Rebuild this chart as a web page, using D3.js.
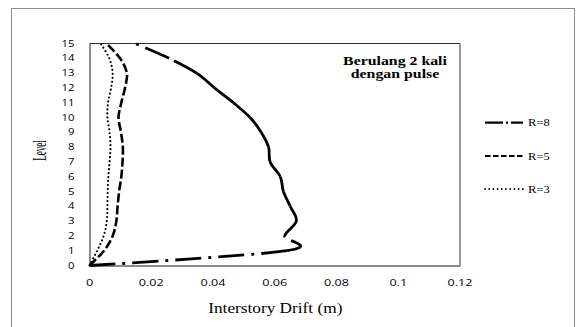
<!DOCTYPE html>
<html>
<head>
<meta charset="utf-8">
<script src="https://cdn.jsdelivr.net/npm/d3@7"></script>
<style>
body{margin:0;background:#fff;}
svg{display:block;}
</style>
</head>
<body>
<div id="chart"></div>
<script>
//=====================data=========================
const levels = [0,1,2,3,4,5,6,7,8,9,10,11,12,13,14,15];
const driftR8 = [0, 0.064, 0.0632, 0.067, 0.065, 0.0628, 0.0618, 0.0585, 0.058, 0.0556, 0.052, 0.0466, 0.0405, 0.0347, 0.0258, 0.0148];
const driftR5 = [0, 0.0047, 0.0075, 0.0087, 0.0091, 0.0096, 0.0103, 0.0107, 0.0108, 0.0102, 0.0094, 0.0103, 0.0115, 0.0121, 0.0099, 0.0055];
const driftR3 = [0, 0.0025, 0.0046, 0.0056, 0.0058, 0.0059, 0.0061, 0.0065, 0.0068, 0.0065, 0.0058, 0.006, 0.007, 0.0075, 0.0064, 0.0036];
const seriesName = ['R=8','R=5','R=3'];
const xTicks = [0, 0.02, 0.04, 0.06, 0.08, 0.1, 0.12];
const yTicks = [0,1,2,3,4,5,6,7,8,9,10,11,12,13,14,15];
const titleLines = ['Berulang 2 kali','dengan pulse'];

//=====================plot size=========================
var W = 576, H = 327;
var plot = {left:89.5, right:460, top:43.5, bottom:265.5};

var svg = d3.select('#chart')
.append('svg')
.attr('width', W)
.attr('height', H);

svg.append('rect').attr('width',W).attr('height',H).attr('fill','#fff');
// outer frame
svg.append('rect')
.attr('x',11.5).attr('y',8.5)
.attr('width',563).attr('height',340)
.attr('fill','none').attr('stroke','#8a8a8a').attr('stroke-width',1);

var x = d3.scaleLinear().domain([0,0.12]).range([plot.left, plot.right]);
var y = d3.scaleLinear().domain([0,15]).range([plot.bottom, plot.top]);

// plot border (top/right dark, axes grey)
svg.append('line').attr('x1',x(0)).attr('x2',x(0.12)).attr('y1',y(15)).attr('y2',y(15))
.attr('stroke','#333').attr('stroke-width',1);
svg.append('line').attr('x1',x(0.12)).attr('x2',x(0.12)).attr('y1',y(15)).attr('y2',y(0))
.attr('stroke','#333').attr('stroke-width',1);

var xAxis = svg.append('g')
.attr('transform','translate(0,'+y(0)+')')
.call(d3.axisBottom(x).tickValues(xTicks).tickSize(0).tickFormat(''));
var yAxis = svg.append('g')
.attr('transform','translate('+x(0)+',0)')
.call(d3.axisLeft(y).tickValues(yTicks).tickSize(0).tickFormat(''));
svg.selectAll('.domain').attr('stroke','#8c8c8c').attr('stroke-width',2);

//=====================tick labels (stretched like the picture)=========
svg.selectAll('xlab')
.data(xTicks)
.enter()
.append('text')
.attr('transform', function(d){ return 'translate('+x(d)+',286) scale(1.5,1)'; })
.attr('text-anchor','middle')
.style('font-family','Open Sans, sans-serif')
.style('font-size','8.4px')
.style('fill','#000')
.text(function(d){ return d; });

svg.selectAll('ylab')
.data(yTicks)
.enter()
.append('text')
.attr('transform', function(d){ return 'translate(74.5,'+(y(d)+3)+') scale(1.35,1)'; })
.attr('text-anchor','end')
.style('font-family','Open Sans, sans-serif')
.style('font-size','8.4px')
.style('fill','#000')
.text(function(d){ return d; });

//=====================axis titles=========================
svg.append('text')
.attr('transform','translate(275.3,313) scale(1.27,1)')
.attr('text-anchor','middle')
.style('font-family','Liberation Serif, serif')
.style('font-size','13.6px')
.text('Interstory Drift (m)');

svg.append('text')
.attr('transform','translate(45.5,150.5) rotate(-90) scale(0.7,1.4)')
.attr('text-anchor','middle')
.style('font-family','Liberation Serif, serif')
.style('font-size','13px')
.text('Level');

svg.selectAll('title')
.data(titleLines)
.enter()
.append('text')
.attr('transform', function(d,i){ return 'translate(395,'+(64.5+i*13)+') scale(1.32,1)'; })
.attr('text-anchor','middle')
.style('font-family','Liberation Serif, serif')
.style('font-weight','bold')
.style('font-size','12px')
.text(function(d){ return d; });

//=====================curves=========================
var curve = d3.curveCardinal.tension(0);
function pts(drift){ return levels.map(function(l,i){ return [drift[i], l]; }); }

// excel restarts the dash pattern on every segment, so split the smoothed path
function segmentPaths(points){
    var segs = [], cx, cy;
    var ctx = {
        moveTo: function(a,b){ cx=a; cy=b; },
        lineTo: function(a,b){ segs.push('M'+cx+','+cy+'L'+a+','+b); cx=a; cy=b; },
        bezierCurveTo: function(a,b,c,d,e,f){ segs.push('M'+cx+','+cy+'C'+a+','+b+','+c+','+d+','+e+','+f); cx=e; cy=f; },
        closePath: function(){}
    };
    d3.line().x(function(d){ return x(d[0]); }).y(function(d){ return y(d[1]); }).curve(curve).context(ctx)(points);
    return segs;
}

var line = d3.line().x(function(d){ return x(d[0]); }).y(function(d){ return y(d[1]); }).curve(curve);

svg.append('g')
.selectAll('path')
.data(segmentPaths(pts(driftR8)))
.enter()
.append('path')
.attr('d', function(d){ return d; })
.attr('fill','none')
.attr('stroke','#000')
.attr('stroke-width',2.8)
.attr('stroke-dasharray','26,7,3,7');

svg.append('path')
.attr('d', line(pts(driftR5)))
.attr('fill','none')
.attr('stroke','#000')
.attr('stroke-width',2.6)
.attr('stroke-dasharray','9,3');

svg.append('path')
.attr('d', line(pts(driftR3)))
.attr('fill','none')
.attr('stroke','#000')
.attr('stroke-width',2.2)
.attr('stroke-linecap','round')
.attr('stroke-dasharray','0,4');

//=====================legend=========================
var legY = [122.7, 156, 189];
var legDash = ['18,3,2,3','5.5,2.5','0,4.2'];
var legCap = ['butt','butt','round'];
var legW = [2.2, 2, 1.8];
var leg = svg.selectAll('leg')
.data(seriesName)
.enter()
.append('g')
.attr('transform', function(d,i){ return 'translate(0,'+legY[i]+')'; });
leg.append('line')
.attr('x1',485).attr('x2',523)
.attr('stroke','#000')
.attr('stroke-width', function(d,i){ return legW[i]; })
.attr('stroke-linecap', function(d,i){ return legCap[i]; })
.attr('stroke-dasharray', function(d,i){ return legDash[i]; });
leg.append('text')
.attr('transform','translate(528,3.6) scale(1.2,1)')
.style('font-family','Liberation Serif, serif')
.style('font-size','10.5px')
.text(function(d){ return d; });
</script>
</body>
</html>
